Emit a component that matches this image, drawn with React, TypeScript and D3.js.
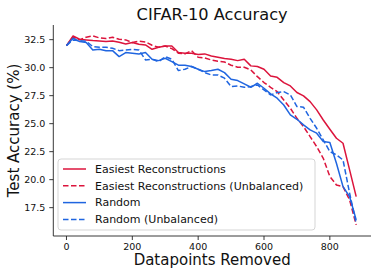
import React from "react";
import * as d3 from "d3";

const removed = d3.range(0, 881, 20);

const easiest = [
  31.97, 32.83, 32.54, 32.48, 32.42, 32.39, 32.33, 32.39, 32.27, 32.12, 32.24, 32.09, 32.03,
  31.64, 31.82, 31.94, 31.94, 31.35, 31.29, 31.29, 31.17, 31.23, 31.05, 30.93, 30.81, 30.75,
  30.63, 30.75, 30.16, 30.1, 29.86, 29.26, 29.14, 28.67, 28.37, 27.78, 27.48, 26.97, 26.23,
  25.33, 24.5, 23.7, 23.25, 20.87, 18.49,
];
const easiestUnbal = [
  31.97, 32.72, 32.48, 32.72, 32.83, 32.66, 32.6, 32.72, 32.54, 32.48, 32.24, 32.36, 32.3,
  32.0, 31.82, 31.94, 31.7, 31.29, 31.23, 31.52, 30.93, 30.87, 30.69, 30.57, 30.51, 30.22,
  30.04, 30.04, 29.8, 29.2, 28.67, 28.25, 27.86, 27.12, 26.38, 25.48, 24.74, 23.85, 22.95,
  21.91, 20.28, 19.53, 19.38, 18.19, 15.96,
];
const random = [
  31.97, 32.63, 32.33, 32.24, 31.58, 31.64, 31.52, 31.52, 30.99, 31.35, 31.29, 31.23, 31.35,
  30.75, 30.63, 30.84, 30.54, 30.22, 30.22, 30.1, 29.86, 29.65, 29.74, 29.86, 29.56, 28.97,
  28.85, 28.55, 28.25, 28.61, 28.16, 27.66, 27.27, 26.67, 25.78, 25.39, 24.89, 24.44, 24.15,
  23.4, 23.31, 21.47, 19.38, 18.49, 16.41,
];
const randomUnbal = [
  31.97, 32.48, 32.42, 32.36, 31.88, 31.82, 31.82, 31.73, 31.52, 31.58, 31.64, 31.58, 30.69,
  30.75, 30.54, 30.99, 30.75, 29.74, 29.86, 30.1, 29.86, 29.56, 29.35, 29.35, 29.06, 28.31,
  28.37, 28.25, 28.31, 28.46, 28.01, 27.57, 27.78, 27.86, 27.57, 26.53, 26.47, 25.48, 24.59,
  23.55, 22.51, 22.21, 21.76, 18.79, 16.11,
];

const xTicks = [0, 200, 400, 600, 800];
const yTicks = [17.5, 20.0, 22.5, 25.0, 27.5, 30.0, 32.5];

const RED = "#dc143c";
const BLUE = "#1f65e0";
const DASH = "5.5,2.5";

const series = [
  { name: "Easiest Reconstructions", values: easiest, color: RED, dash: null },
  { name: "Easiest Reconstructions (Unbalanced)", values: easiestUnbal, color: RED, dash: DASH },
  { name: "Random", values: random, color: BLUE, dash: null },
  { name: "Random (Unbalanced)", values: randomUnbal, color: BLUE, dash: DASH },
];

const font = "DejaVu Sans, sans-serif";

export default function App() {
  const W = 377;
  const H = 277;
  const left = 53.3;
  const right = 371;
  const top = 25;
  const bottom = 236;

  const x = d3.scaleLinear().domain([-40, 925]).range([left, right]);
  const y = d3.scaleLinear().domain([14.97, 33.81]).range([bottom, top]);

  const line = d3
    .line<number>()
    .x((_, i) => x(removed[i]))
    .y((d) => y(d));

  return (
    <svg
      width={W}
      height={H}
      style={{ position: "absolute", left: 0, top: 0, background: "#fff" }}
      fontFamily={font}
    >
      <rect width={W} height={H} fill="#fff" />
      {series.map((s) => (
        <path
          key={s.name}
          d={line(s.values) || ""}
          fill="none"
          stroke={s.color}
          strokeWidth={1.5}
          strokeDasharray={s.dash || undefined}
          strokeLinejoin="round"
        />
      ))}

      {/* spines */}
      <line x1={left} x2={left} y1={top} y2={bottom} stroke="#222" strokeWidth={0.9} />
      <line x1={left} x2={right} y1={bottom} y2={bottom} stroke="#222" strokeWidth={0.9} />

      {xTicks.map((t) => (
        <g key={t} transform={`translate(${x(t)},${bottom})`}>
          <line y1={0} y2={4} stroke="#222" strokeWidth={0.9} />
          <text y={13.5} textAnchor="middle" fontSize={9.5} fill="#111">
            {t}
          </text>
        </g>
      ))}
      {yTicks.map((t) => (
        <g key={t} transform={`translate(${left},${y(t)})`}>
          <line x1={-4} x2={0} stroke="#222" strokeWidth={0.9} />
          <text x={-8} dy="0.35em" textAnchor="end" fontSize={9.5} fill="#111">
            {t.toFixed(1)}
          </text>
        </g>
      ))}

      <text x={(left + right) / 2} y={20} textAnchor="middle" fontSize={16.2} fill="#111">
        CIFAR-10 Accuracy
      </text>
      <text x={(left + right) / 2} y={265} textAnchor="middle" fontSize={15} fill="#111">
        Datapoints Removed
      </text>
      <text
        transform={`translate(18.5,${(top + bottom) / 2}) rotate(-90)`}
        textAnchor="middle"
        fontSize={15}
        fill="#111"
      >
        Test Accuracy (%)
      </text>

      {/* legend */}
      <rect
        x={58}
        y={159}
        width={257}
        height={71}
        rx={3}
        fill="#fff"
        fillOpacity={0.8}
        stroke="#d0d0d0"
        strokeWidth={0.9}
      />
      {series.map((s, i) => {
        const ly = 169 + i * 16.8;
        return (
          <g key={s.name}>
            <line
              x1={63}
              x2={86}
              y1={ly}
              y2={ly}
              stroke={s.color}
              strokeWidth={1.5}
              strokeDasharray={s.dash || undefined}
            />
            <text x={95} y={ly} dy="0.35em" fontSize={11} fill="#111">
              {s.name}
            </text>
          </g>
        );
      })}
    </svg>
  );
}
